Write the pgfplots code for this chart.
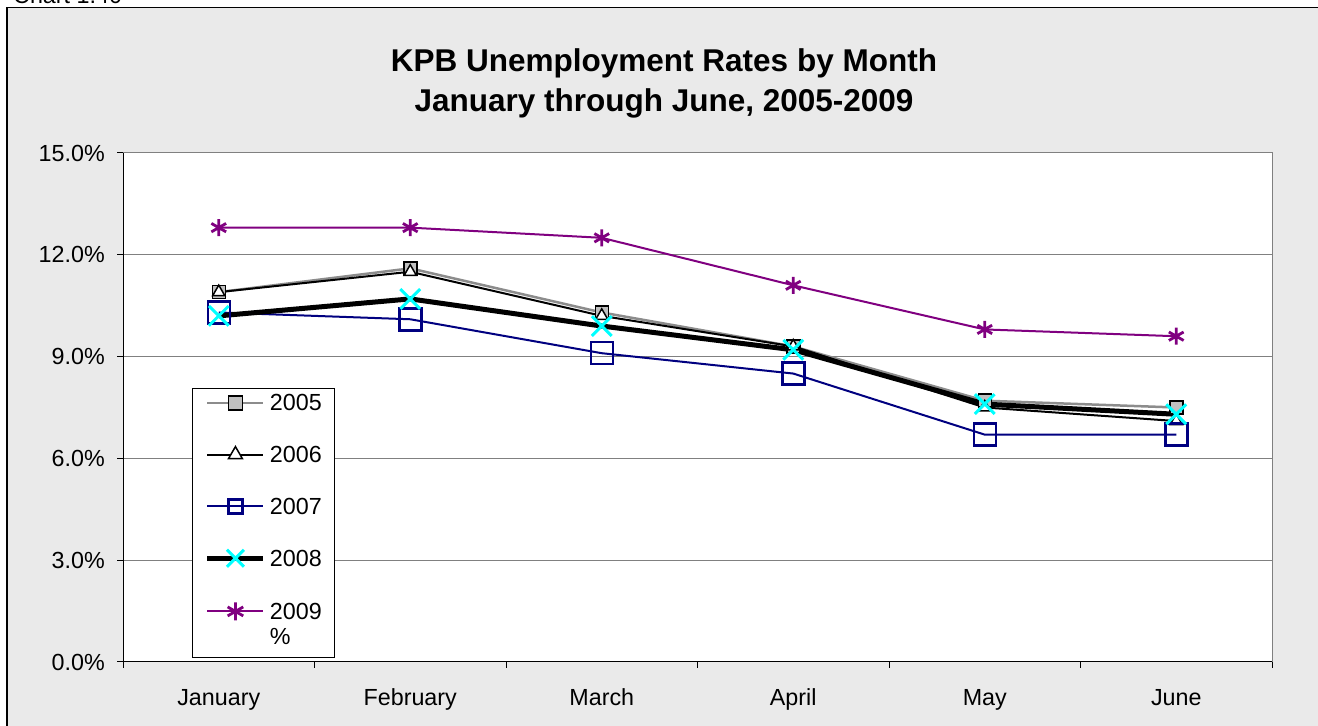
\documentclass[border=0pt]{standalone}
\usepackage{fontspec}
\setmainfont{Liberation Sans}
\usepackage{pgfplots}
\pgfplotsset{compat=1.18}
\definecolor{bggray}{HTML}{EAEAEA}
\definecolor{gridgray}{HTML}{808080}
\definecolor{navyc}{HTML}{000080}
\definecolor{purplec}{HTML}{800080}
\definecolor{cyanc}{HTML}{00FFFF}
\definecolor{sqgray}{HTML}{C0C0C0}
\definecolor{line05}{HTML}{8C8C8C}
\pgfplotsset{
 leg/.style={legend image code/.code={\draw[mark repeat=2,mark phase=2,##1,mark size=#1,yshift=8bp] plot coordinates {(0bp,0bp) (28bp,0bp) (56bp,0bp)};}}
}
\begin{document}
\begin{tikzpicture}[x=1bp,y=1bp]
\useasboundingbox (0,0) rectangle (1318,725);
\begin{scope}
\clip (0,0) rectangle (1318,725);
\fill[bggray] (7,-20) rectangle (1340,717.5);
\draw[black,line width=1.5bp] (7,-20) -- (7,717.5) -- (1340,717.5);
\node[anchor=base west, font=\fontsize{23.3bp}{27bp}\selectfont, inner sep=0] at (13,721) {Chart 1.40};
\end{scope}
\node[align=center, font=\fontsize{31.5bp}{40bp}\selectfont\bfseries] at (664,642) {KPB Unemployment Rates by Month\\January through June, 2005-2009};
\begin{axis}[
 at={(123bp,63bp)}, anchor=south west,
 scale only axis, width=1149bp, height=509bp,
 xmin=-0.5, xmax=5.5, ymin=0, ymax=15,
 axis background/.style={fill=white, draw=gridgray, line width=1bp},
 axis x line*=bottom, axis y line*=left,
 axis line style={black, line width=1bp},
 xtick={-0.5,0.5,...,5.5}, xticklabels={},
 extra x ticks={0,1,2,3,4,5},
 extra x tick labels={January,February,March,April,May,June},
 extra x tick style={major tick length=0bp, xticklabel style={anchor=base, inner sep=0bp, yshift=-43bp}},
 ytick={0,3,...,15},
 yticklabel={\pgfmathprintnumber[fixed,fixed zerofill,precision=1,assume math mode=true]{\tick}\%},
 yticklabel style={anchor=east, inner sep=0bp, xshift=-12bp},
 ymajorgrids, grid style={gridgray, line width=1bp},
 tick align=outside, major tick length=6bp,
 tick style={black, line width=1bp},
 ticklabel style={font=\fontsize{23.3bp}{27bp}\selectfont},
 clip=false,
 legend cell align=left,
 legend style={at={(rel axis cs:0.060,0.538)}, anchor=north west, draw=black, line width=1bp, fill=white,
   font=\fontsize{23.3bp}{25bp}\selectfont, inner xsep=12.5bp, inner ysep=6bp,
   nodes={inner sep=0bp, text depth=}, row sep=35.2bp, column sep=4bp, cells={anchor=base west}},
]
\addplot[line05, line width=2.5bp, mark=square*, mark size=6.5bp,
  mark options={solid, fill=sqgray, draw=black, line width=1.5bp}, leg=7bp]
 coordinates {(0,10.9) (1,11.6) (2,10.3) (3,9.3) (4,7.7) (5,7.5)};
\addlegendentry{2005}
\addplot[black, line width=2bp, mark=triangle*, mark size=7bp,
  mark options={solid, fill=white, draw=black, line width=1.5bp}, leg=8bp]
 coordinates {(0,10.9) (1,11.5) (2,10.2) (3,9.3) (4,7.5) (5,7.1)};
\addlegendentry{2006}
\addplot[navyc, line width=2bp, mark=square, mark size=11bp,
  mark options={solid, draw=navyc, line width=2.5bp}, leg=7bp]
 coordinates {(0,10.3) (1,10.1) (2,9.1) (3,8.5) (4,6.7) (5,6.7)};
\addlegendentry{2007}
\addplot[black, line width=5bp, mark=x, mark size=14bp,
  mark options={solid, draw=cyanc, line width=3bp}, leg=12bp]
 coordinates {(0,10.2) (1,10.7) (2,9.9) (3,9.2) (4,7.6) (5,7.3)};
\addlegendentry{2008}
\addplot[purplec, line width=2bp, mark=asterisk, mark size=8.5bp,
  mark options={solid, draw=purplec, line width=2.8bp}, leg=9bp]
 coordinates {(0,12.8) (1,12.8) (2,12.5) (3,11.1) (4,9.8) (5,9.6)};
\addlegendentry{\begin{tabular}[t]{@{}l@{}}2009\\\%\end{tabular}}
\end{axis}
\end{tikzpicture}
\end{document}
